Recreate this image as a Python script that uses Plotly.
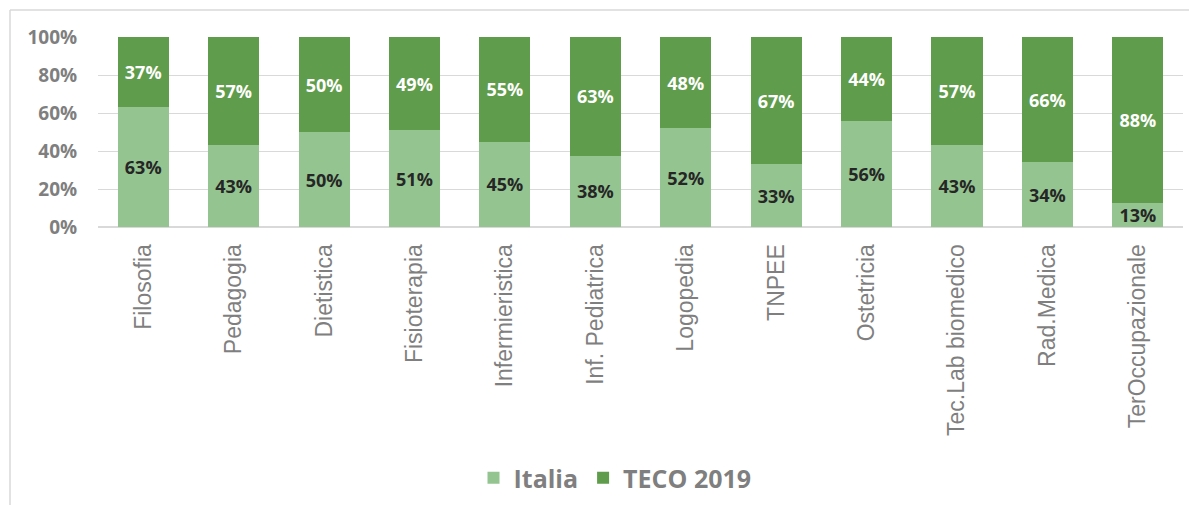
import plotly.graph_objects as go

categories = ["Filosofia", "Pedagogia", "Dietistica", "Fisioterapia", "Infermieristica",
              "Inf. Pediatrica", "Logopedia", "TNPEE", "Ostetricia", "Tec.Lab biomedico",
              "Rad.Medica", "TerOccupazionale"]
italia = [63, 43, 50, 51, 45, 37.5, 52, 33, 56, 43, 34, 12.5]
teco = [37, 57, 50, 49, 55, 62.5, 48, 67, 44, 57, 66, 87.5]
italia_labels = ["63%", "43%", "50%", "51%", "45%", "38%", "52%", "33%", "56%", "43%", "34%", "13%"]
teco_labels = ["37%", "57%", "50%", "49%", "55%", "63%", "48%", "67%", "44%", "57%", "66%", "88%"]
tick_vals = [0, 20, 40, 60, 80, 100]
tick_text = ["0%", "20%", "40%", "60%", "80%", "100%"]

# page has an 8px body margin; keep the whole page inside the window
OFF = 8
W, H = 1197 - 2 * OFF, 513 - 2 * OFF
L, T = 98 - OFF, 37 - OFF
R = W - (1183 - OFF)
B = H - (227 - OFF)

fig = go.Figure()
fig.add_trace(go.Bar(
    name="Italia", x=categories, y=italia, text=italia_labels,
    marker=dict(color="#94C490", line=dict(width=0)),
    textposition="inside", insidetextanchor="middle", textangle=0, constraintext="none",
    textfont=dict(color="#262626", size=18, family="Open Sans", weight="bold"),
    hoverinfo="skip"))
fig.add_trace(go.Bar(
    name="TECO 2019", x=categories, y=teco, text=teco_labels,
    marker=dict(color="#5F9C4B", line=dict(width=0)),
    textposition="inside", insidetextanchor="middle", textangle=0, constraintext="none",
    textfont=dict(color="#FFFFFF", size=18, family="Open Sans", weight="bold"),
    hoverinfo="skip"))

pw = W - L - R
ph = H - T - B
def px_x(v):
    return (v - OFF - L) / pw
def px_y(v):
    return (H - B - (v - OFF)) / ph

border = dict(color="#D9D9D9", width=1.5)
fig.update_layout(
    width=W, height=H,
    barmode="stack", bargap=0.435,
    margin=dict(l=L, r=R, t=T, b=B, autoexpand=False),
    paper_bgcolor="white", plot_bgcolor="white",
    font=dict(family="Open Sans", color="#7F7F7F"),
    xaxis=dict(
        tickangle=-90, tickfont=dict(size=23, family="Liberation Sans", color="#7F7F7F"),
        showgrid=False, showline=True, linecolor="#D9D9D9", linewidth=1,
        ticks="outside", ticklen=7, tickcolor="rgba(0,0,0,0)", fixedrange=True),
    yaxis=dict(
        range=[0, 100], tickvals=tick_vals, ticktext=tick_text,
        tickfont=dict(size=19, family="Open Sans", color="#7F7F7F", weight="bold"),
        showgrid=True, gridcolor="#D9D9D9", gridwidth=1,
        zeroline=True, zerolinecolor="#D9D9D9",
        ticks="outside", ticklen=16, tickcolor="rgba(0,0,0,0)", fixedrange=True),
    legend=dict(
        orientation="h", x=px_x(615), xanchor="center", y=px_y(478), yanchor="middle",
        font=dict(size=25, family="Open Sans", color="#7F7F7F", weight="bold"),
        itemwidth=30, traceorder="normal"),
    shapes=[
        dict(type="line", xref="paper", yref="paper",
             x0=px_x(10), x1=px_x(10), y0=px_y(513), y1=px_y(10), line=border, layer="below"),
        dict(type="line", xref="paper", yref="paper",
             x0=px_x(10), x1=px_x(1197), y0=px_y(10), y1=px_y(10), line=border, layer="below"),
    ],
    showlegend=True,
)

fig.write_html("out.html")
